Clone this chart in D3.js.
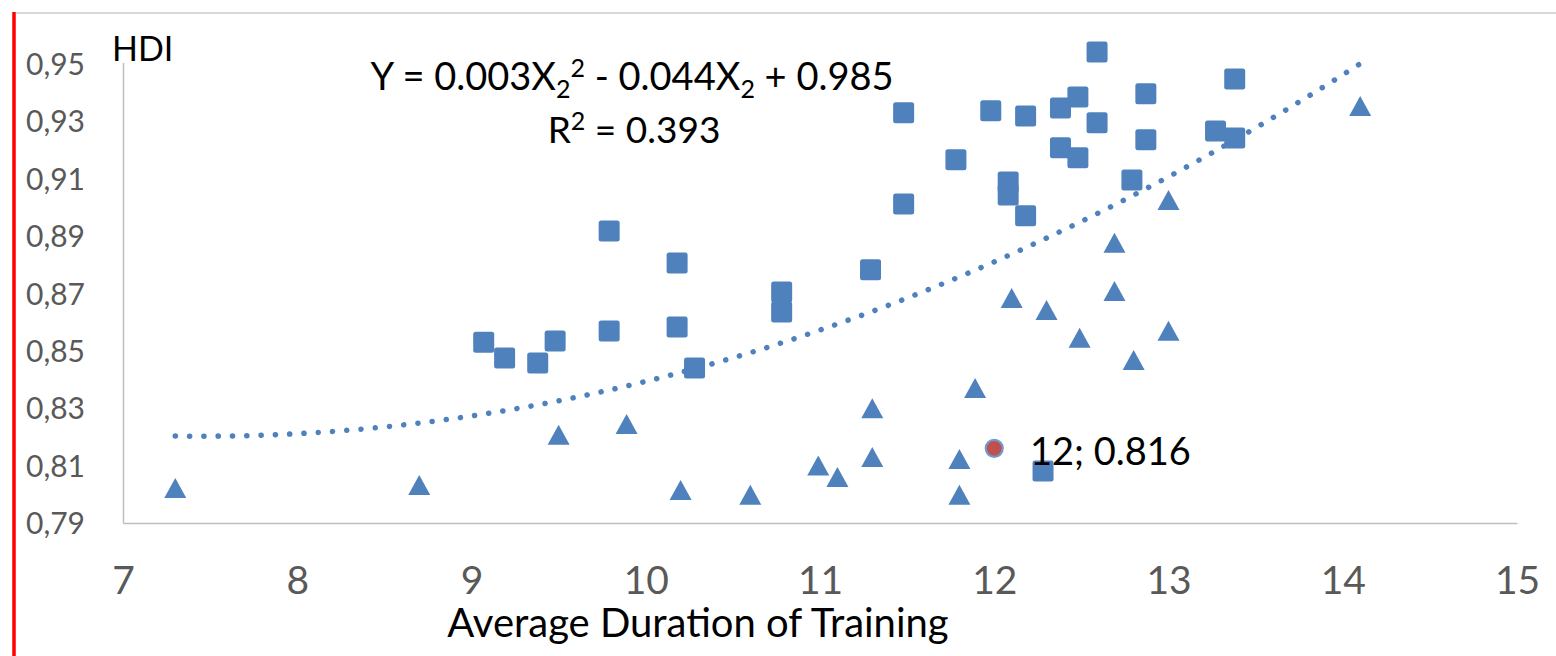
<!DOCTYPE html>
<html><head><meta charset="utf-8">
<script src="https://cdn.jsdelivr.net/npm/d3@7"></script>
<style>
html,body{margin:0;padding:0;background:#fff;}
svg{display:block;}
text{font-family:Lato,"Open Sans",sans-serif;}
</style></head>
<body>
<svg id="chart" width="1556" height="656"></svg>
<script>
// ---- data ----
const squaresX = [9.07,9.19,9.38,9.48,9.79,9.79,10.18,10.18,10.28,10.78,10.78,11.29,11.48,11.48,11.78,11.98,12.08,12.08,12.18,12.18,12.38,12.48,12.38,12.48,12.59,12.59,12.79,12.87,12.87,13.27,13.38,13.38,12.28];
const squaresY = [0.853,0.8475,0.8457,0.8534,0.8917,0.8569,0.8806,0.8583,0.844,0.8705,0.8635,0.8782,0.9011,0.9329,0.9165,0.9336,0.9088,0.9043,0.9318,0.897,0.9346,0.9384,0.9207,0.9172,0.9541,0.9294,0.9095,0.9395,0.9235,0.9266,0.9241,0.9447,0.8081];
const trianglesX = [7.30,8.70,9.50,9.89,10.20,10.60,10.99,11.10,11.30,11.30,11.80,11.80,11.89,12.10,12.30,12.49,12.69,12.69,12.80,13.00,13.00,14.10];
const trianglesY = [0.8022,0.8032,0.8207,0.8245,0.8015,0.7998,0.810,0.806,0.830,0.813,0.8123,0.7998,0.837,0.8684,0.8642,0.8545,0.8876,0.8708,0.8468,0.857,0.9025,0.9353];
const highlightPoint = [12, 0.816];
const highlightLabel = "12; 0.816";
const trendCoef = [0.002935, -0.043735, 0.98316]; // a x^2 + b x + c
const trendRange = [7.3, 14.1];
const xTicks = [7,8,9,10,11,12,13,14,15];
const yTicks = [0.79,0.81,0.83,0.85,0.87,0.89,0.91,0.93,0.95];
const xDomain = [7, 15];
const yDomain = [0.79, 0.96];
const yTitle = "HDI";
const xTitle = "Average Duration of Training";

// ---- layout ----
const svg = d3.select("#chart");
const L = 123, R = 1517, B = 523, T = 35;
const x = d3.scaleLinear().domain(xDomain).range([L, R]);
const y = d3.scaleLinear().domain(yDomain).range([B, T]);
const blue = "#4f81bd";
const fmtY = d3.formatLocale({decimal:",", thousands:".", grouping:[3], currency:["",""]}).format(".2f");

// frame lines
svg.append("line").attr("x1",16).attr("x2",1556).attr("y1",13).attr("y2",13)
  .attr("stroke","#d9d9d9").attr("stroke-width",2);
svg.append("line").attr("x1",14).attr("x2",14).attr("y1",12).attr("y2",656)
  .attr("stroke","#ff0000").attr("stroke-width",3.5);

// axes
const xAxis = d3.axisBottom(x).tickValues(xTicks).tickSize(0).tickPadding(0).tickFormat(d3.format("d"));
const gx = svg.append("g").attr("transform",`translate(0,${B})`).call(xAxis);
gx.select(".domain").attr("stroke","#bfbfbf").attr("stroke-width",1.5);
gx.selectAll("text").attr("fill","#595959").attr("font-size",39).attr("dy",0).attr("y",71)
  .attr("font-family","Lato");

const yAxis = d3.axisLeft(y).tickValues(yTicks).tickSize(0).tickPadding(0).tickFormat(fmtY);
const gy = svg.append("g").attr("transform",`translate(${L},0)`).call(yAxis);
gy.select(".domain").attr("stroke","#bfbfbf").attr("stroke-width",1.5);
gy.selectAll("text").attr("fill","#595959").attr("font-size",30).attr("x",-38).attr("dy","0.36em")
  .attr("font-family","Lato");

// markers
const squareSize = 21;
svg.append("g").selectAll("rect").data(squaresX.map((d,i)=>[d,squaresY[i]])).join("rect")
  .attr("x",d=>x(d[0])-squareSize/2).attr("y",d=>y(d[1])-squareSize/2)
  .attr("width",squareSize).attr("height",squareSize).attr("rx",2.5)
  .attr("fill",blue);

const triW = 22, triH = 20;
svg.append("g").selectAll("path").data(trianglesX.map((d,i)=>[d,trianglesY[i]])).join("path")
  .attr("d",d=>{const cx=x(d[0]), cy=y(d[1]);
    return `M${cx},${cy-triH/2}L${cx+triW/2},${cy+triH/2}L${cx-triW/2},${cy+triH/2}Z`;})
  .attr("fill",blue);

// trendline
const trendXs = d3.range(0,101).map(i=>trendRange[0]+(trendRange[1]-trendRange[0])*i/100);
const trendFn = v => trendCoef[0]*v*v + trendCoef[1]*v + trendCoef[2];
svg.append("path").datum(trendXs)
  .attr("d", d3.line().x(d=>x(d)).y(d=>y(trendFn(d))).curve(d3.curveLinear))
  .attr("fill","none").attr("stroke",blue).attr("stroke-width",5.5)
  .attr("stroke-linecap","round").attr("stroke-dasharray","0.1 14.2");

// highlighted point
svg.append("circle").attr("cx",x(highlightPoint[0])).attr("cy",y(highlightPoint[1])).attr("r",8.5)
  .attr("fill","#c0504d").attr("stroke","#6f9ad0").attr("stroke-width",2.2);
svg.append("text").attr("x",1030).attr("y",465).attr("font-size",38).attr("fill","#000")
  .text(highlightLabel);

// y title with white backing
svg.append("rect").attr("x",111).attr("y",30).attr("width",60).attr("height",33).attr("fill","#fff");
svg.append("text").attr("x",112).attr("y",61).attr("font-size",34).attr("fill","#000").text(yTitle);

// x title
svg.append("text").attr("x",698).attr("y",637).attr("text-anchor","middle").attr("font-size",40)
  .attr("fill","#000").text(xTitle);

// equation
const eq = svg.append("text").attr("x",632).attr("y",90).attr("text-anchor","middle")
  .attr("font-size",38).attr("fill","#000");
eq.append("tspan").text("Y = 0.003X");
eq.append("tspan").attr("font-size",25).attr("dy",8).text("2");
eq.append("tspan").attr("font-size",25).attr("dy",-21).text("2");
eq.append("tspan").attr("dy",13).text(" - 0.044X");
eq.append("tspan").attr("font-size",25).attr("dy",8).text("2");
eq.append("tspan").attr("dy",-8).text(" + 0.985");

const r2 = svg.append("text").attr("x",634).attr("y",143).attr("text-anchor","middle")
  .attr("font-size",37).attr("fill","#000");
r2.append("tspan").text("R");
r2.append("tspan").attr("font-size",25).attr("dy",-13).text("2");
r2.append("tspan").attr("dy",13).text(" = 0.393");
</script>
</body></html>
